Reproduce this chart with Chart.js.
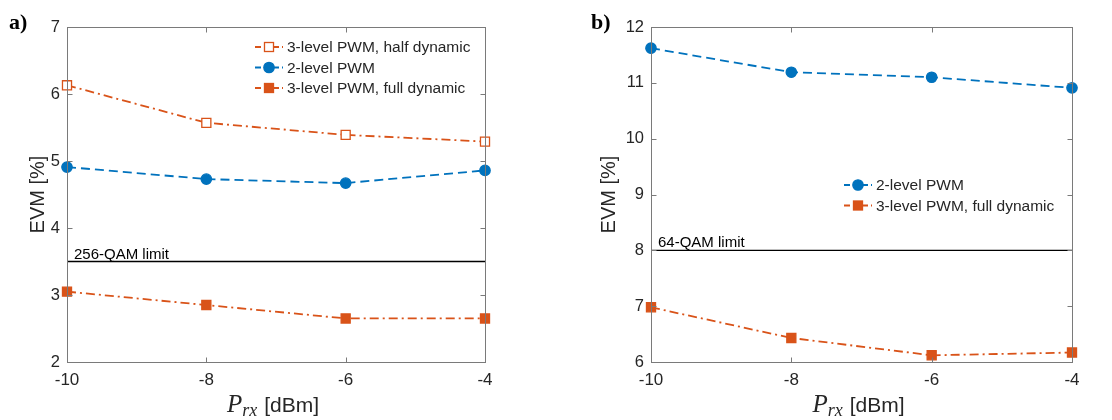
<!DOCTYPE html>
<html><head><meta charset="utf-8">
<script src="https://cdn.jsdelivr.net/npm/chart.js@4.4.0/dist/chart.umd.min.js"></script>
<style>
html,body{margin:0;padding:0;background:#fff;}
#wrap{position:relative;width:1112px;height:420px;}
.c{position:absolute;top:0;width:556px;height:420px;}
</style></head><body>
<div id="wrap">
<div class="c" style="left:0"><canvas id="ca" width="556" height="420"></canvas></div>
<div class="c" style="left:556px"><canvas id="cb" width="556" height="420"></canvas></div>
</div>
<script>
// ---- data ----
const prx = [-10, -8, -6, -4];
const xTicks = [-10, -8, -6, -4];
// panel a
const aHalfDyn = [6.13, 5.57, 5.39, 5.29];
const a2Level = [4.91, 4.73, 4.67, 4.86];
const aFullDyn = [3.05, 2.85, 2.65, 2.65];
const aLimit = 3.5;
const aLimitLabel = "256-QAM limit";
const aYTicks = [2, 3, 4, 5, 6, 7];
// panel b
const b2Level = [11.62, 11.19, 11.10, 10.91];
const bFullDyn = [6.98, 6.43, 6.12, 6.17];
const bLimit = 8;
const bLimitLabel = "64-QAM limit";
const bYTicks = [6, 7, 8, 9, 10, 11, 12];

const ORANGE = '#D95319', BLUE = '#0072BD', AX = '#7a7a7a', TXT = '#262626';
const DASH = [9, 5], DASHDOT = [9, 4, 2, 4];
const SANS = '"Liberation Sans", Arial, sans-serif';
const SERIF = '"Liberation Serif", "DejaVu Serif", serif';

function pts(ys){ return prx.map((x,i)=>({x:x,y:ys[i]})); }
function limitPts(v){ return [{x:prx[0],y:v},{x:prx[prx.length-1],y:v}]; }

function ds(label, ys, color, dash, style, fill, leg){
  return {label, data: pts(ys), borderColor: color, backgroundColor: fill,
    borderWidth: 1.8, borderDash: dash, pointStyle: style,
    pointRadius: style==='circle'?5.2:6.4, pointBorderWidth: 1.3,
    pointBorderColor: color, pointBackgroundColor: fill, tension: 0, clip: false, legend: leg};
}

const decor = {
  id: 'decor',
  afterDraw(chart, args, o){
    const ctx = chart.ctx, ca = chart.chartArea, xs = chart.scales.x, ys = chart.scales.y;
    ctx.save();
    // box
    ctx.strokeStyle = AX; ctx.lineWidth = 1; ctx.setLineDash([]);
    const L = Math.round(ca.left)+0.5, R = Math.round(ca.right)+0.5, T = Math.round(ca.top)+0.5, B = Math.round(ca.bottom)+0.5;
    ctx.strokeRect(L, T, R-L, B-T);
    // inward ticks
    ctx.beginPath();
    xTicks.forEach(v=>{ const px = Math.round(xs.getPixelForValue(v))+0.5;
      ctx.moveTo(px,B); ctx.lineTo(px,B-5); ctx.moveTo(px,T); ctx.lineTo(px,T+5); });
    o.yTicks.forEach(v=>{ const py = Math.round(ys.getPixelForValue(v))+0.5;
      ctx.moveTo(L,py); ctx.lineTo(L+5,py); ctx.moveTo(R,py); ctx.lineTo(R-5,py); });
    ctx.stroke();
    // limit label
    ctx.fillStyle = '#000'; ctx.font = '15px ' + SANS;
    ctx.textBaseline = 'alphabetic'; ctx.textAlign = 'left';
    ctx.fillText(o.limitLabel, ca.left + o.limitDx, ys.getPixelForValue(o.limitVal) - 3);
    // panel tag
    ctx.font = 'bold 22px ' + SERIF;
    ctx.fillText(o.tag, o.tagX, 29);
    // y label
    ctx.save();
    ctx.translate(o.yLabX, (ca.top+ca.bottom)/2);
    ctx.rotate(-Math.PI/2);
    ctx.textAlign = 'center'; ctx.textBaseline = 'middle'; ctx.fillStyle = TXT;
    ctx.font = '20px ' + SANS;
    ctx.fillText('EVM [%]', 0, 0);
    ctx.restore();
    // x label
    const cx = (ca.left+ca.right)/2 - 3, by = 412;
    const fP = 'italic 25px ' + SERIF;
    const fS = 'italic 18px ' + SERIF;
    const fU = '21px ' + SANS;
    ctx.font = fP; const wP = ctx.measureText('P').width;
    ctx.font = fS; const wS = ctx.measureText('rx').width;
    ctx.font = fU; const wU = ctx.measureText(' [dBm]').width;
    let x0 = cx - (wP + wS + 1 + wU)/2;
    ctx.fillStyle = TXT;
    ctx.font = fP; ctx.fillText('P', x0, by); x0 += wP;
    ctx.font = fS; ctx.fillText('rx', x0, by+4); x0 += wS + 1;
    ctx.font = fU; ctx.fillText(' [dBm]', x0, by);
    // legend
    ctx.font = '15.5px ' + SANS;
    ctx.textBaseline = 'middle';
    let ly = o.legY;
    chart.data.datasets.forEach(d=>{
      if(!d.legend) return;
      ctx.strokeStyle = d.borderColor; ctx.lineWidth = 1.8; ctx.setLineDash([6,3]);
      ctx.beginPath(); ctx.moveTo(o.legX, ly); ctx.lineTo(o.legX+28, ly); ctx.stroke();
      ctx.setLineDash([]);
      const mx = o.legX+14;
      ctx.fillStyle = d.pointBackgroundColor; ctx.strokeStyle = d.borderColor; ctx.lineWidth = 1.3;
      if(d.pointStyle==='circle'){ ctx.beginPath(); ctx.arc(mx, ly, 5.2, 0, Math.PI*2); ctx.fill(); ctx.stroke(); }
      else { const s = 4.5; ctx.fillRect(mx-s, ly-s, 2*s, 2*s); ctx.strokeRect(mx-s, ly-s, 2*s, 2*s); }
      ctx.fillStyle = TXT; ctx.fillText(d.label, o.legX+32, ly+1);
      ly += o.legDy;
    });
    ctx.restore();
  }
};

function makeChart(id, datasets, yMin, yMax, yTicks, pad, yW, o){
  return new Chart(document.getElementById(id), {
    type: 'line',
    data: { datasets },
    options: {
      responsive: false, animation: false,
      layout: { padding: pad },
      plugins: { legend: { display: false }, tooltip: { enabled: false }, decor: Object.assign({yTicks}, o) },
      scales: {
        x: { type: 'linear', min: prx[0], max: prx[prx.length-1],
          afterBuildTicks: s => { s.ticks = xTicks.map(v=>({value:v})); },
          afterFit: s => { s.height = 58; },
          grid: { display: false, drawTicks: false }, border: { display: false },
          ticks: { color: TXT, padding: 8, font: { size: 17, family: SANS } } },
        y: { type: 'linear', min: yMin, max: yMax,
          afterBuildTicks: s => { s.ticks = yTicks.map(v=>({value:v})); },
          afterFit: s => { s.width = yW; },
          grid: { display: false, drawTicks: false }, border: { display: false },
          ticks: { color: TXT, padding: 7, font: { size: 16.5, family: SANS } } }
      }
    },
    plugins: [decor]
  });
}

makeChart('ca', [
  { label: aLimitLabel, data: limitPts(aLimit), borderColor: '#000', borderWidth: 1.4, pointRadius: 0, legend: false },
  ds('3-level PWM, half dynamic', aHalfDyn, ORANGE, DASHDOT, 'rect', '#ffffff', true),
  ds('2-level PWM', a2Level, BLUE, DASH, 'circle', BLUE, true),
  ds('3-level PWM, full dynamic', aFullDyn, ORANGE, DASHDOT, 'rect', ORANGE, true)
], 2, 7, aYTicks, {left:0, right:71, top:27, bottom:0}, 67,
  {limitLabel: aLimitLabel, limitVal: aLimit, limitDx: 7, tag: 'a)', tagX: 9, yLabX: 38, legX: 255, legY: 47, legDy: 20.5});

makeChart('cb', [
  { label: bLimitLabel, data: limitPts(bLimit), borderColor: '#000', borderWidth: 1.4, pointRadius: 0, legend: false },
  ds('2-level PWM', b2Level, BLUE, DASH, 'circle', BLUE, true),
  ds('3-level PWM, full dynamic', bFullDyn, ORANGE, DASHDOT, 'rect', ORANGE, true)
], 6, 12, bYTicks, {left:0, right:40, top:27, bottom:0}, 95,
  {limitLabel: bLimitLabel, limitVal: bLimit, limitDx: 7, tag: 'b)', tagX: 35, yLabX: 53, legX: 288, legY: 185, legDy: 20.5});
</script>
</body></html>
